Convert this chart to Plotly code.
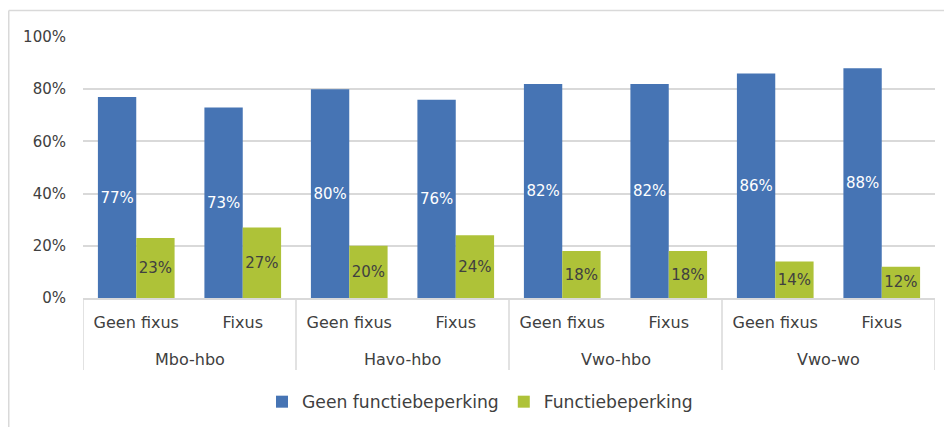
import plotly.graph_objects as go

groups = ["Mbo-hbo", "Mbo-hbo", "Havo-hbo", "Havo-hbo", "Vwo-hbo", "Vwo-hbo", "Vwo-wo", "Vwo-wo"]
subcats = ["Geen fixus", "Fixus"] * 4
geen_functiebeperking = [77, 73, 80, 76, 82, 82, 86, 88]
functiebeperking = [23, 27, 20, 24, 18, 18, 14, 12]
series_names = ["Geen functiebeperking", "Functiebeperking"]
y_ticks = [0, 20, 40, 60, 80, 100]
y_tick_labels = [f"{v}%" for v in y_ticks]

BLUE = "#4674B4"
GREEN = "#AEC238"
GRID = "#D9D9D9"
TEXT = "#404040"
FONT = "DejaVu Sans"

# page has an 8px body margin; size the figure to fit the window
OFF = 8
W, H = 952 - OFF, 427 - OFF
L, R, T, B = 75, 17, 29, 129
pw, ph = W - L - R, H - T - B


def px_x(x):  # page pixel -> paper x
    return (x - OFF - L) / pw


def px_y(y):  # page pixel -> paper y
    return (H - B - (y - OFF)) / ph


idx = list(range(len(subcats)))

fig = go.Figure()
fig.add_trace(go.Bar(
    x=idx, y=geen_functiebeperking, name=series_names[0],
    marker=dict(color=BLUE, line=dict(width=0)),
    text=[f"{v}%" for v in geen_functiebeperking], textposition="inside",
    insidetextanchor="middle", textangle=0, constraintext="none",
    textfont=dict(family=FONT, size=15, color="white"),
))
fig.add_trace(go.Bar(
    x=idx, y=functiebeperking, name=series_names[1],
    marker=dict(color=GREEN, line=dict(width=0)),
    text=[f"{v}%" for v in functiebeperking], textposition="inside",
    insidetextanchor="middle", textangle=0, constraintext="none",
    textfont=dict(family=FONT, size=15, color=TEXT),
))

# group dividers and group labels from the group list
unique_groups = []
for g in groups:
    if g not in unique_groups:
        unique_groups.append(g)
shapes = []
annotations = []
bounds = []
for g in unique_groups:
    members = [i for i, gg in enumerate(groups) if gg == g]
    bounds.append(members[0] - 0.5)
    annotations.append(dict(
        x=sum(members) / len(members), xref="x", y=px_y(359), yref="paper",
        text=g, showarrow=False, xanchor="center", yanchor="middle",
        font=dict(family=FONT, size=16, color=TEXT),
    ))
bounds.append(len(groups) - 0.5)
for b in bounds:
    shapes.append(dict(type="line", xref="x", yref="paper", x0=b, x1=b,
                       y0=0, y1=px_y(370), line=dict(color=GRID, width=1.5)))

# outer chart frame (top and left edges visible)
shapes.append(dict(type="line", xref="paper", yref="paper", x0=px_x(8.75), x1=px_x(960),
                   y0=px_y(10.5), y1=px_y(10.5), line=dict(color=GRID, width=1.5)))
shapes.append(dict(type="line", xref="paper", yref="paper", x0=px_x(8.75), x1=px_x(8.75),
                   y0=px_y(10.5), y1=px_y(440), line=dict(color=GRID, width=1.5)))

fig.update_layout(
    width=W, height=H,
    margin=dict(l=L, r=R, t=T, b=B, autoexpand=False),
    paper_bgcolor="white", plot_bgcolor="white",
    barmode="group", bargap=0.28, bargroupgap=0,
    font=dict(family=FONT, size=16, color=TEXT),
    showlegend=True,
    legend=dict(
        orientation="h", x=px_x(262), xanchor="left", y=px_y(402), yanchor="middle",
        font=dict(family=FONT, size=17.2, color=TEXT),
        bgcolor="rgba(0,0,0,0)",
    ),
    xaxis=dict(
        range=[-0.5, len(subcats) - 0.5], tickvals=idx, ticktext=subcats,
        showgrid=False, zeroline=False, showline=True, linecolor=GRID, linewidth=1.5,
        tickfont=dict(family=FONT, size=16, color=TEXT), ticks="", ticklabelstandoff=9,
    ),
    yaxis=dict(
        range=[0, 100], tickvals=y_ticks, ticktext=y_tick_labels, showgrid=True,
        gridcolor=GRID, gridwidth=1.5, zeroline=False, showline=False,
        tickfont=dict(family=FONT, size=15, color=TEXT), ticklabelstandoff=16,
    ),
    shapes=shapes,
    annotations=annotations,
)

fig.write_html("out.html")
